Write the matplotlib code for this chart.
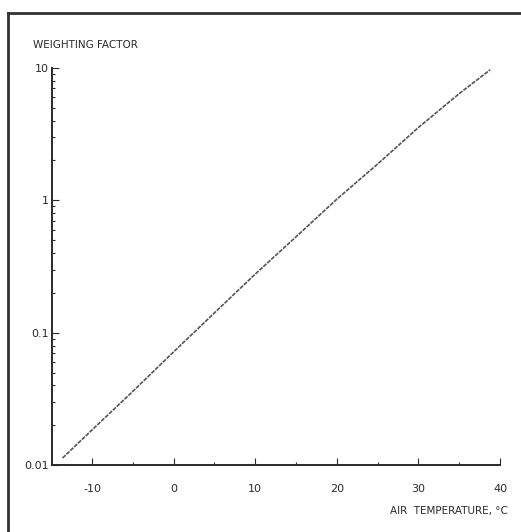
import matplotlib
matplotlib.use('Agg')
import matplotlib.pyplot as plt
from matplotlib.lines import Line2D
from matplotlib.ticker import LogLocator, NullFormatter, FixedLocator

plt.rcParams['axes.unicode_minus'] = False

# values
temperature = [-13.6, -10, -5, 0, 5, 10, 15, 20, 25, 30, 35, 38.8]
weighting = [0.0113, 0.0184, 0.036, 0.0716, 0.141, 0.277, 0.53, 1.02, 1.88, 3.55, 6.4, 9.7]

x_ticks = [-10, 0, 10, 20, 30, 40]
y_ticks = [0.01, 0.1, 1, 10]
y_tick_labels = ['0.01', '0.1', '1', '10']

ink = '#2a2a2a'

fig = plt.figure(figsize=(5.21, 5.32), dpi=100)
ax = fig.add_axes([0.0998, 0.1259, 0.8599, 0.7463])

ax.plot(temperature, weighting, color='#555555', linewidth=1.2,
        linestyle=(0, (2.5, 0.7)))

ax.set_yscale('log')
ax.set_xlim(-14.9, 40)
ax.set_ylim(0.01, 10)

ax.xaxis.set_major_locator(FixedLocator(x_ticks))
ax.xaxis.set_minor_locator(FixedLocator([-5, 5, 15, 25, 35]))
ax.yaxis.set_major_locator(FixedLocator(y_ticks))
ax.set_yticklabels(y_tick_labels)
ax.yaxis.set_minor_locator(LogLocator(base=10, subs=range(2, 10)))
ax.yaxis.set_minor_formatter(NullFormatter())

ax.tick_params(which='both', direction='in', colors=ink, labelsize=8, width=0.8)
ax.tick_params(which='major', length=5)
ax.tick_params(which='minor', length=2.5)
ax.tick_params(axis='x', pad=13.5)
ax.tick_params(axis='y', pad=2)

for side in ['top', 'right']:
    ax.spines[side].set_visible(False)
for side in ['left', 'bottom']:
    ax.spines[side].set_color(ink)
    ax.spines[side].set_linewidth(1.4)

fig.text(33 / 521, 1 - 45 / 532, 'WEIGHTING FACTOR', fontsize=7.5, color=ink,
         va='center', ha='left')
fig.text(508 / 521, 1 - 511 / 532, 'AIR  TEMPERATURE, \u00b0C', fontsize=7.5,
         color=ink, va='center', ha='right')

# border of the scanned figure
fig.add_artist(Line2D([8 / 521, 8 / 521], [0, 1 - 13 / 532], color='#333333', linewidth=2))
fig.add_artist(Line2D([8 / 521, 1], [1 - 13 / 532, 1 - 13 / 532], color='#333333', linewidth=2))

fig.savefig('out.png', dpi=100)
